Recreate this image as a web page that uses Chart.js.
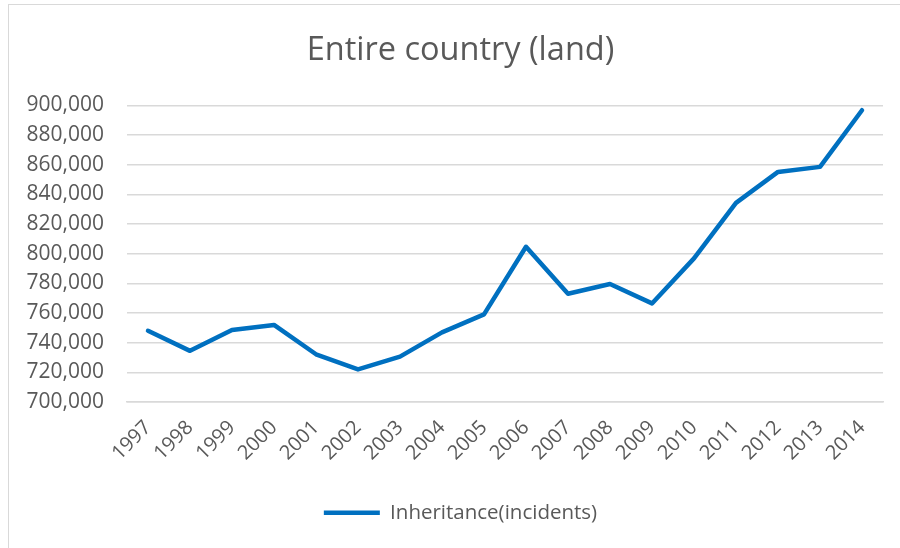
<!DOCTYPE html>
<html>
<head>
<meta charset="utf-8">
<script src="https://cdn.jsdelivr.net/npm/chart.js@4/dist/chart.umd.min.js"></script>
<style>
  html, body { margin: 0; padding: 0; background: #fff; }
  #wrap { position: relative; width: 900px; height: 548px; overflow: hidden; }
  #frame {
    position: absolute; left: 8px; top: 4px; width: 900px; height: 600px;
    border-top: 1.5px solid #d9d9d9; border-left: 1.5px solid #d9d9d9;
  }
  #chart { position: absolute; left: 0; top: 0; }
</style>
</head>
<body>
<div id="wrap">
  <div id="frame"></div>
  <canvas id="chart" width="900" height="548"></canvas>
</div>
<script>
const years = ['1997', '1998', '1999', '2000', '2001', '2002', '2003', '2004', '2005',
  '2006', '2007', '2008', '2009', '2010', '2011', '2012', '2013', '2014'];
const inheritance = [748000, 734500, 748600, 752000, 732200, 722000, 730600, 747000, 759100,
  804700, 773000, 779600, 766500, 796900, 834300, 855200, 858600, 896800];
const yMin = 700000;
const yMax = 900000;
const yStep = 20000;

const textColor = '#595959';
const gridColor = '#d9d9d9';
const lineColor = '#0070c0';
const font = 'Open Sans';

// title and legend are centred on the full frame, which runs past the right edge
const shiftBlocks = {
  id: 'shiftBlocks',
  afterLayout(chart) {
    const dx = 19;
    for (const box of [chart.titleBlock, chart.legend]) {
      box.left += dx;
      box.right += dx;
    }
  }
};

new Chart(document.getElementById('chart'), {
  type: 'line',
  data: {
    labels: years,
    datasets: [{
      label: 'Inheritance(incidents)',
      data: inheritance,
      borderColor: lineColor,
      backgroundColor: lineColor,
      borderWidth: 4.5,
      borderCapStyle: 'round',
      borderJoinStyle: 'round',
      pointRadius: 0,
      pointStyle: 'line',
      tension: 0
    }]
  },
  plugins: [shiftBlocks],
  options: {
    responsive: false,
    animation: false,
    layout: { padding: { left: 0, right: 17, top: 0, bottom: 15 } },
    plugins: {
      title: {
        display: true,
        text: 'Entire country (land)',
        color: textColor,
        font: { family: font, size: 32.5, weight: 'normal' },
        padding: { top: 31, bottom: 35.5 }
      },
      legend: {
        position: 'bottom',
        labels: {
          color: textColor,
          font: { family: font, size: 20.5 },
          usePointStyle: true,
          pointStyleWidth: 56,
          padding: 10
        }
      },
      tooltip: { enabled: false }
    },
    scales: {
      x: {
        offset: true,
        grid: { display: false, drawTicks: false },
        border: { display: true, color: gridColor, width: 1.5 },
        ticks: {
          color: textColor,
          font: { family: font, size: 20 },
          maxRotation: 45,
          minRotation: 45,
          autoSkip: false,
          padding: 14
        },
        afterFit(scale) { scale.height = 90.5; }
      },
      y: {
        min: yMin,
        max: yMax,
        grid: { color: gridColor, lineWidth: 1.5, drawTicks: false },
        border: { display: false },
        ticks: {
          stepSize: yStep,
          color: textColor,
          font: { family: font, size: 21 },
          padding: 23,
          callback: v => v.toLocaleString('en-US')
        },
        afterFit(scale) { scale.width = 127; }
      }
    }
  }
});
</script>
</body>
</html>
